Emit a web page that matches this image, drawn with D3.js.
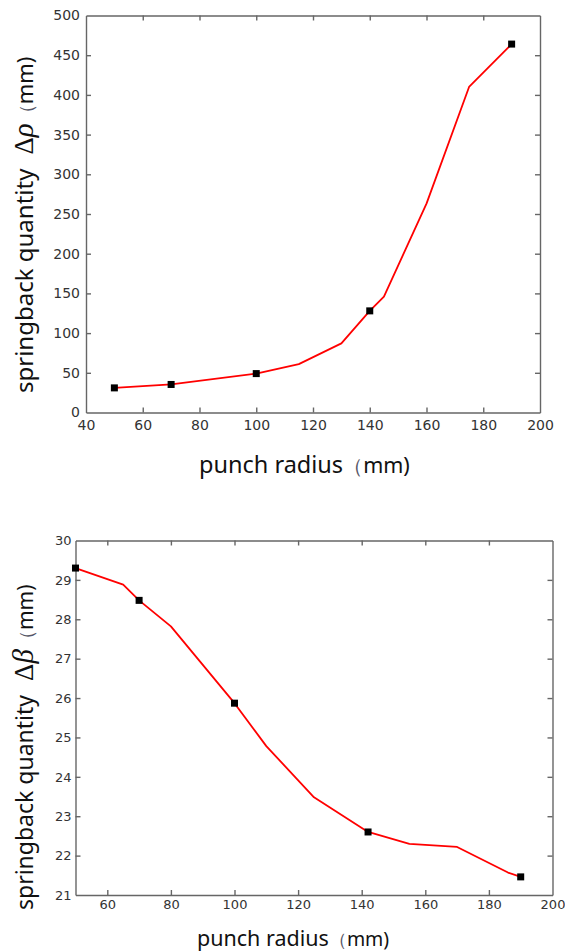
<!DOCTYPE html>
<html>
<head>
<meta charset="utf-8">
<script src="https://cdn.jsdelivr.net/npm/d3@7"></script>
<style>
  body { margin: 0; background: #fff; }
  svg { display: block; }
  .tick text { fill: #333; font-family: "DejaVu Sans", sans-serif; }
  .domain, .tick line { stroke: #666; stroke-width: 1.4; }
  .label { font-family: "Noto Sans", sans-serif; fill: #111; }
</style>
</head>
<body>
<svg id="chart" width="565" height="952"></svg>
<script>
// top panel: springback Δρ vs punch radius
let radius_top = [50, 70, 100, 115, 130, 140, 145, 160, 175, 190],
    rho = [31, 35.3, 49, 61, 87, 128, 146, 263, 410, 464],
    marks_top = [50, 70, 100, 140, 190],
    xticks_top = [40, 60, 80, 100, 120, 140, 160, 180, 200],
    yticks_top = [0, 50, 100, 150, 200, 250, 300, 350, 400, 450, 500];

// bottom panel: springback Δβ vs punch radius
let radius_bot = [50, 65, 70, 80, 100, 110, 125, 142, 155, 170, 186, 190],
    beta = [29.3, 28.88, 28.48, 27.82, 25.87, 24.78, 23.48, 22.6, 22.3, 22.22, 21.57, 21.46],
    marks_bot = [50, 70, 100, 142, 190],
    xticks_bot = [60, 80, 100, 120, 140, 160, 180, 200],
    yticks_bot = [21, 22, 23, 24, 25, 26, 27, 28, 29, 30];

let svg = d3.select("#chart");

function panel(cfg) {
  let x = d3.scaleLinear().domain(cfg.xdom).range([cfg.left, cfg.right]),
      y = d3.scaleLinear().domain(cfg.ydom).range([cfg.bottom, cfg.top]),
      g = svg.append("g");

  let inner = cfg.xticks.filter(v => v > cfg.xdom[0] && v < cfg.xdom[1]),
      innerY = cfg.yticks.filter(v => v > cfg.ydom[0] && v < cfg.ydom[1]);

  g.append("g")
    .attr("transform", `translate(0, ${cfg.bottom})`)
    .call(d3.axisBottom(x).tickValues(cfg.xticks).tickSizeInner(-5).tickSizeOuter(0).tickPadding(cfg.xpad))
    .call(a => a.selectAll("text").style("font-size", cfg.xfont + "px"))
    .call(a => a.selectAll(".tick line").filter(d => inner.indexOf(d) == -1).remove());
  g.append("g")
    .attr("transform", `translate(0, ${cfg.top})`)
    .call(d3.axisTop(x).tickValues(inner).tickSizeInner(-5).tickSizeOuter(0).tickFormat(""));
  g.append("g")
    .attr("transform", `translate(${cfg.left}, 0)`)
    .call(d3.axisLeft(y).tickValues(cfg.yticks).tickSizeInner(-5).tickSizeOuter(0).tickPadding(cfg.ypad))
    .call(a => a.selectAll("text").style("font-size", cfg.yfont + "px"))
    .call(a => a.selectAll(".tick line").filter(d => innerY.indexOf(d) == -1).remove());
  g.append("g")
    .attr("transform", `translate(${cfg.right}, 0)`)
    .call(d3.axisRight(y).tickValues(innerY).tickSizeInner(-5).tickSizeOuter(0).tickFormat(""));

  let pts = cfg.xs.map((v, i) => [v, cfg.ys[i]]);
  g.append("path")
    .datum(pts)
    .attr("fill", "none")
    .attr("stroke", "#f00")
    .attr("stroke-width", 1.8)
    .attr("stroke-linejoin", "round")
    .attr("d", d3.line().x(d => x(d[0])).y(d => y(d[1])));

  g.selectAll("rect.mark")
    .data(pts.filter(d => cfg.marks.indexOf(d[0]) != -1))
    .enter().append("rect")
    .attr("class", "mark")
    .attr("x", d => x(d[0]) - 3.5)
    .attr("y", d => y(d[1]) - 3.5)
    .attr("width", 7)
    .attr("height", 7)
    .attr("fill", "#000");

  // y title
  let yt = g.append("text")
    .attr("class", "label")
    .attr("transform", `translate(33, ${cfg.ylabelY}) rotate(-90)`)
    .style("font-size", cfg.ylabelSize + "px");
  yt.append("tspan").text("springback quantity");
  yt.append("tspan").attr("dx", 14).style("font-family", "'Liberation Serif', serif")
    .style("font-size", "27px").text("Δ");
  yt.append("tspan").style("font-family", "'Liberation Serif', serif")
    .style("font-style", "italic").style("font-size", "29px").text(cfg.greek);
  yt.append("tspan").style("font-size", "19px").style("fill", "#556").text("（");
  yt.append("tspan").style("font-size", (cfg.ylabelSize - 2) + "px").text("mm)");

  // x title
  let xt = g.append("text")
    .attr("class", "label")
    .attr("x", cfg.xlabelX)
    .attr("y", cfg.xlabelY)
    .style("font-size", cfg.xlabelSize + "px");
  xt.append("tspan").text("punch radius");
  xt.append("tspan").style("font-size", (cfg.xlabelSize - 4) + "px").style("fill", "#556").text("（");
  xt.append("tspan").style("font-size", (cfg.xlabelSize - 2) + "px").text("mm)");
}

panel({
  xdom: [40, 200], ydom: [0, 500],
  left: 86, right: 540, top: 15.5, bottom: 412.5,
  xticks: xticks_top, yticks: yticks_top,
  xs: radius_top, ys: rho, marks: marks_top,
  xfont: 14, yfont: 14, xpad: 8, ypad: 6,
  greek: "ρ", ylabelY: 393, ylabelSize: 24,
  xlabelX: 199, xlabelY: 473, xlabelSize: 23.5
});

panel({
  xdom: [50, 200], ydom: [21, 30],
  left: 75.5, right: 552.5, top: 540.5, bottom: 895,
  xticks: xticks_bot, yticks: yticks_bot,
  xs: radius_bot, ys: beta, marks: marks_bot,
  xfont: 13, yfont: 13, xpad: 5, ypad: 4,
  greek: "β", ylabelY: 910, ylabelSize: 23,
  xlabelX: 197, xlabelY: 946, xlabelSize: 21.5
});
</script>
</body>
</html>
